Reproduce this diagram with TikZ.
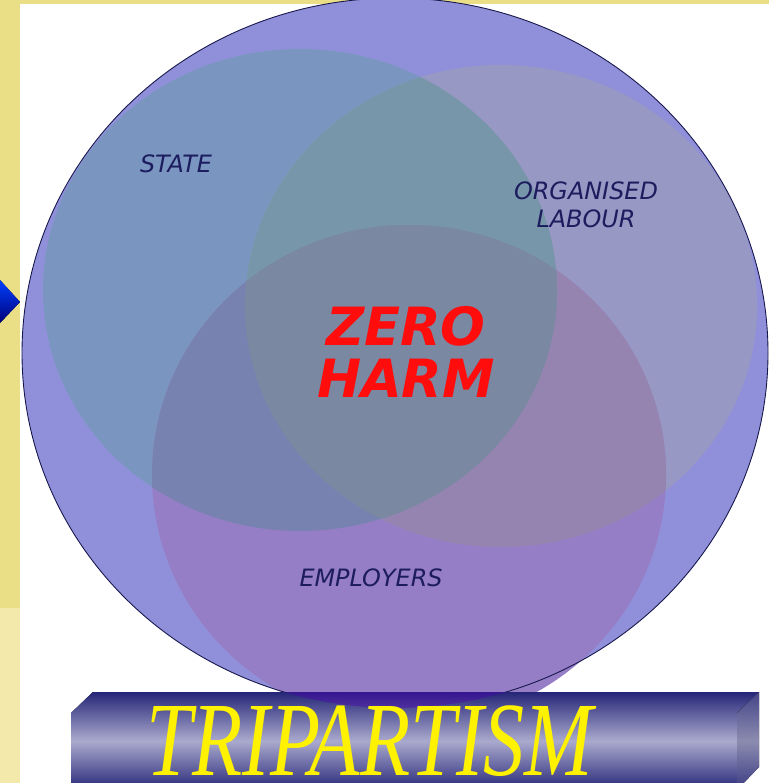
\documentclass[tikz,border=0pt]{standalone}
\usepackage{fontspec}
\newfontfamily\labelfont{DejaVu Sans}
\newfontfamily\titlefont{Liberation Serif}
\definecolor{stripyellow}{RGB}{234,223,135}
\definecolor{stripyellowlight}{RGB}{242,233,170}
\definecolor{bigfill}{RGB}{144,144,218}
\definecolor{statefill}{RGB}{122,150,192}
\definecolor{labourfill}{RGB}{152,152,196}
\definecolor{empfill}{RGB}{150,126,198}
\definecolor{slfill}{RGB}{120,150,170}
\definecolor{sefill}{RGB}{120,130,176}
\definecolor{lefill}{RGB}{150,132,176}
\definecolor{allfill}{RGB}{122,136,162}
\definecolor{labelnavy}{RGB}{28,28,94}
\definecolor{harmred}{RGB}{255,12,12}
\definecolor{barnavy}{RGB}{38,38,120}
\definecolor{barlight}{RGB}{170,170,206}
\definecolor{sidegrey}{RGB}{140,140,176}
\tikzset{
  setlabel/.style={text=labelnavy, font=\labelfont\itshape\fontsize{13.6}{16}\selectfont, align=center},
  harmlabel/.style={text=harmred, font=\labelfont\bfseries\itshape\fontsize{30}{30}\selectfont, align=center},
  titlelabel/.style={text=yellow, inner sep=0pt, font=\titlefont\itshape\fontsize{60}{60}\selectfont, xscale=0.78}
}
\begin{document}
\begin{tikzpicture}[x=0.02cm, y=-0.02cm]
    \useasboundingbox (0,0) rectangle (769,783);
    % Define the three sets
    \def\statepath{(300,290) ellipse [x radius=257, y radius=241]}
    \def\labourpath{(501,306) ellipse [x radius=256, y radius=241]}
    \def\emppath{(409,475) ellipse [x radius=257, y radius=250]}
    \def\bigpath{(395,353) ellipse [x radius=373, y radius=355]}

    % Background strips
    \fill[white] (0,0) rectangle (769,783);
    \fill[stripyellow] (0,0) rectangle (769,4);
    \fill[stripyellow] (0,0) rectangle (20,608);
    \fill[stripyellowlight] (0,608) rectangle (20,783);
    \fill[top color={rgb,255:red,0;green,64;blue,255}, bottom color={rgb,255:red,0;green,0;blue,120}]
        (0,280) -- (20,302) -- (0,323) -- cycle;

    % Draw the outer circle and the sets
    \fill[bigfill] \bigpath;
    \fill[statefill] \statepath;
    \fill[labourfill] \labourpath;
    \fill[empfill] \emppath;
    \begin{scope}
        \clip \labourpath;
        \fill[lefill] \emppath;
    \end{scope}
    \begin{scope}
        \clip \statepath;
        \fill[slfill] \labourpath;
        \fill[sefill] \emppath;
        \clip \labourpath;
        \fill[allfill] \emppath;
    \end{scope}
    \draw[labelnavy!80!black, line width=0.5pt] \bigpath;

    % Draw the bar
    \coordinate (B_1) at (71,713);
    \coordinate (B_2) at (93,692);
    \coordinate (B_3) at (759,692);
    \coordinate (B_4) at (737,713);
    \coordinate (B_5) at (737,790);
    \coordinate (B_6) at (71,790);
    \coordinate (B_7) at (759,767);
    \fill[top color=barnavy, bottom color=barnavy, middle color=barlight]
        (B_1) -- (B_2) -- (B_3) -- (B_4) -- (B_5) -- (B_6) -- cycle;
    \fill[top color=barnavy!70!sidegrey, bottom color=barnavy!80!sidegrey, middle color=sidegrey]
        (B_4) -- (B_3) -- (B_7) -- (B_5) -- cycle;
    \begin{scope}
        \clip (B_1) -- (B_2) -- (B_3) -- (B_4) -- (B_5) -- (B_6) -- cycle;
        \fill[violet!60!blue, fill opacity=0.4] \bigpath;
    \end{scope}

    % Label the sets
    \node[setlabel] (state) at (176,164) {STATE};
    \node[setlabel] (labour) at (586,205) {ORGANISED\\LABOUR};
    \node[setlabel] (employers) at (371,578) {EMPLOYERS};
    \node[harmlabel] (harm) at (406,352) {ZERO\\HARM};
    \node[titlelabel] (title) at (370,741) {TRIPARTISM};
\end{tikzpicture}
\end{document}
